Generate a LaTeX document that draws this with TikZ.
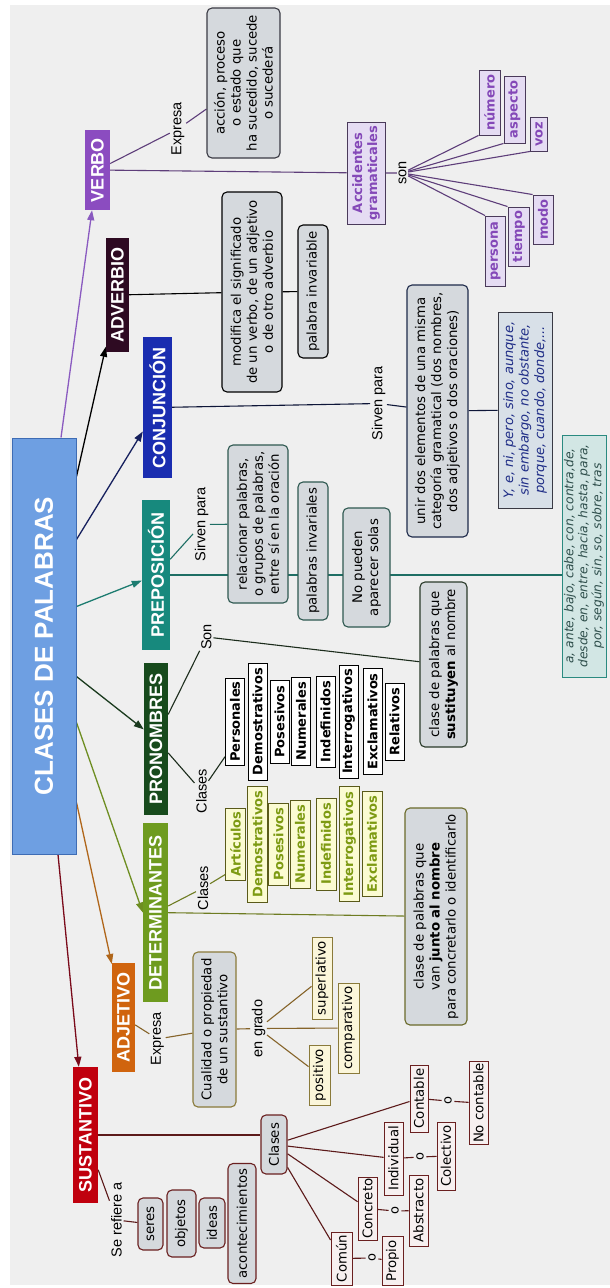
\documentclass[tikz,border=0pt]{standalone}
\usepackage{fontspec}
\setmainfont{DejaVu Sans}
\newfontfamily\arialf{Liberation Sans}
\usetikzlibrary{calc,arrows.meta}
\pgfdeclarelayer{bg}
\pgfdeclarelayer{lines}
\pgfsetlayers{bg,lines,main}
\definecolor{panel}{HTML}{EFEFEF}
\definecolor{cverbo}{HTML}{8B4CC0}
\definecolor{cadv}{HTML}{2E0A22}
\definecolor{cconj}{HTML}{1A2DB0}
\definecolor{cprep}{HTML}{17897D}
\definecolor{cpron}{HTML}{174A1C}
\definecolor{cdet}{HTML}{6E9B1F}
\definecolor{cadj}{HTML}{D0640E}
\definecolor{csust}{HTML}{C0000E}
\definecolor{ctitle}{HTML}{6E9FE2}
\definecolor{ctitleb}{HTML}{3E6CB4}
\definecolor{boxgray}{HTML}{D5D9DD}
\definecolor{lav}{HTML}{E5DCF3}
\definecolor{lavtext}{HTML}{8448B8}
\definecolor{ylw}{HTML}{FBFBD2}
\definecolor{oltext}{HTML}{7D9A12}
\definecolor{conjbox}{HTML}{D8E0E8}
\definecolor{conjtext}{HTML}{1E2C86}
\definecolor{prepbox}{HTML}{D2E6E4}
\definecolor{preptext}{HTML}{2F4F4C}
\definecolor{pinkw}{HTML}{F7F0F0}
\definecolor{ylw2}{HTML}{FBF6DA}
\definecolor{lverbo}{HTML}{5E3E7A}
\definecolor{lconj}{HTML}{0E1638}
\definecolor{lprep}{HTML}{1E6E64}
\definecolor{lpron}{HTML}{1C2C1C}
\definecolor{ldet}{HTML}{6E7C22}
\definecolor{ladj}{HTML}{86642A}
\definecolor{lsust}{HTML}{5C1A1A}
\definecolor{averbo}{HTML}{8A5AC0}
\definecolor{aconj}{HTML}{16205E}
\definecolor{aprep}{HTML}{1D7C70}
\definecolor{apron}{HTML}{1A3A1E}
\definecolor{adet}{HTML}{6E8E22}
\definecolor{aadj}{HTML}{B0661A}
\definecolor{asust}{HTML}{7A0A1A}
\definecolor{bdgray}{HTML}{3A3A44}
\definecolor{bdconj}{HTML}{1E2A4A}
\definecolor{bdprep}{HTML}{2E5850}
\definecolor{bdpron}{HTML}{2A3A2A}
\definecolor{bddet}{HTML}{6A6A2A}
\definecolor{bdadj}{HTML}{8A7A3A}
\definecolor{bdsust}{HTML}{6A2020}
\definecolor{bdlav}{HTML}{4A3A5A}
\definecolor{bdyl}{HTML}{5A5A1A}
\definecolor{bdprepl}{HTML}{2A8A80}
\tikzset{
  every node/.append style={rotate=90},
  sz/.style 2 args={minimum width=#1pt,minimum height=#2pt},
  ttl/.style={fill=ctitle,draw=ctitleb,line width=1pt,text=white,
    font=\arialf\bfseries\fontsize{26}{28}\selectfont,inner sep=1pt},
  cat/.style={fill=#1,text=white,font=\arialf\bfseries\fontsize{18}{20}\selectfont,inner sep=1pt},
  lbl/.style={font=\arialf\fontsize{14.5}{16}\selectfont,inner sep=1.5pt,text=black},
  lblo/.style={font=\fontsize{13}{15}\selectfont,inner sep=2.5pt,text=black},
  rbox/.style={draw=#1,fill=boxgray,rounded corners=5pt,line width=1.1pt,align=center,
    font=\fontsize{13.3}{16}\selectfont,inner sep=1.5pt},
  wbox/.style={draw=#1,fill=white,line width=0.9pt,font=\bfseries\fontsize{13}{15}\selectfont,inner sep=1.5pt},
  ybox/.style={draw=#1,fill=ylw,text=oltext,line width=0.9pt,font=\bfseries\fontsize{13}{15}\selectfont,inner sep=1.5pt},
  lavbox/.style={draw=#1,fill=lav,text=lavtext,line width=0.9pt,align=center,font=\bfseries\fontsize{13}{15}\selectfont,inner sep=1.5pt},
  gbox/.style={draw=#1,fill=ylw2,line width=0.9pt,font=\fontsize{13.3}{15}\selectfont,inner sep=1.5pt},
  sbox/.style={draw=#1,fill=pinkw,line width=0.9pt,font=\fontsize{13.3}{15}\selectfont,inner sep=1.5pt},
  conjbx/.style={draw=#1,fill=conjbox,text=conjtext,line width=1pt,align=center,font=\itshape\fontsize{13}{15.5}\selectfont,inner sep=1.5pt},
  prepbx/.style={draw=#1,fill=prepbox,text=preptext,line width=1pt,align=center,font=\itshape\fontsize{12.3}{14}\selectfont,inner sep=1.5pt},
  ln/.style={draw=#1,line width=1.1pt},
  arr/.style={draw=#1,line width=1.3pt,-{Triangle[length=10pt,width=7pt]}}
}
\begin{document}
\begin{tikzpicture}[x=1pt,y=-1pt]
\useasboundingbox (0,0) rectangle (610,1288);
\begin{pgfonlayer}{bg}
\fill[white] (0,0) rectangle (610,1288);
\fill[panel] (10,5) rectangle (610,1285);
\end{pgfonlayer}

% title and categories
\node[ttl,sz={416}{64}] (title) at (44,646) {CLASES DE PALABRAS};
\node[cat=cverbo,sz={80}{25}] (verbo) at (97.5,170) {VERBO};
\node[cat=cadv,sz={114}{23}] (adv) at (117.5,295) {ADVERBIO};
\node[cat=cconj,sz={141}{29}] (conj) at (157.5,407.5) {CONJUNCIÓN};
\node[cat=cprep,sz={150}{28}] (prep) at (156,575) {PREPOSICIÓN};
\node[cat=cpron,sz={152}{24}] (pron) at (156,739) {PRONOMBRES};
\node[cat=cdet,sz={179}{25}] (det) at (155.5,912.5) {DETERMINANTES};
\node[cat=cadj,sz={109}{23}] (adj) at (123.5,1017.5) {ADJETIVO};
\node[cat=csust,sz={136}{25}] (sust) at (85.5,1135) {SUSTANTIVO};

% verbo
\node[lbl] (vexp) at (178,129) {Expresa};
\node[rbox=bdgray,sz={150}{73}] (vacc) at (243.5,83) {acción, proceso\\o estado que\\ha sucedido, sucede\\o sucederá};
\node[lavbox=bdlav,sz={102}{38}] (vacci) at (366,173) {Accidentes\\gramaticales};
\node[lbl] (vson) at (402.5,173) {son};
\node[lavbox=bdlav,sz={65}{21}] (vnum) at (489.5,102.5) {número};
\node[lavbox=bdlav,sz={67}{21}] (vasp) at (514.5,109.5) {aspecto};
\node[lavbox=bdlav,sz={34}{17}] (vvoz) at (539,134) {voz};
\node[lavbox=bdlav,sz={70}{20}] (vper) at (495.5,251) {persona};
\node[lavbox=bdlav,sz={59}{21}] (vtie) at (518.5,236.5) {tiempo};
\node[lavbox=bdlav,sz={49}{20}] (vmod) at (543,219.5) {modo};

% adverbio
\node[rbox=black,sz={200}{60}] (amod) at (252,292) {modifica el significado\\de un verbo, de un adjetivo\\o de otro adverbio};
\node[rbox=black,sz={133}{30}] (ainv) at (313,291.5) {palabra invariable};

% conjuncion
\node[lbl] (csir) at (378.5,403.5) {Sirven para};
\node[rbox=bdconj,sz={252}{61}] (cuni) at (437.5,411) {unir dos elementos de una misma\\categoría gramatical (dos nombres,\\dos adjetivos o dos oraciones)};
\node[conjbx=bdgray,sz={196}{54}] (cye) at (525,410) {Y, e, ni, pero, sino, aunque,\\sin embargo, no obstante,\\porque, cuando, donde,...};

% preposicion
\node[lbl] (psir) at (201.5,524.5) {Sirven para};
\node[rbox=bdprep,sz={158}{60}] (prel) at (258,524) {relacionar palabras,\\o grupos de palabras,\\entre sí en la oración};
\node[rbox=bdprep,sz={138}{30}] (pinv) at (313,551) {palabras invariales};
\node[rbox=bdprep,sz={119}{47}] (pno) at (366.5,567.5) {No pueden\\aparecer solas};
\node[prepbx=bdprepl,sz={242}{44}] (plist) at (584,556) {a, ante, bajo, cabe, con, contra,de,\\desde, en, entre, hacia, hasta, para,\\por, según, sin, so, sobre, tras};

% pronombres
\node[lbl] (pson) at (206.5,637) {Son};
\node[rbox=bdpron,sz={165}{47}] (psus) at (443.5,664.5) {clase de palabras que\\\textbf{sustituyen} al nombre};
\node[lbl] (pcla) at (201.5,791) {Clases};
\foreach \n/\xx/\L/\t in {ppers/235/87/Personales,pdem/257.5/117/Demostrativos,ppos/279.5/83/Posesivos,pnum/301/88/Numerales,pind/325.5/91/Indefinidos,pint/348.5/113/Interrogativos,pexc/372.5/106/Exclamativos,prel2/394.5/77/Relativos}
  \node[wbox=black,sz={\L}{19}] (\n) at (\xx,721.5) {\t};

% determinantes
\node[lbl] (dcla) at (203,888) {Clases};
\foreach \n/\xx/\L/\t in {darts/235.5/72/Artículos,ddem/257.5/116/Demostrativos,dpos/278.5/82/Posesivos,dnum/300/88/Numerales,dind/326/92/Indefinidos,dint/349.5/115/Interrogativos,dexc/372/105/Exclamativos}
  \node[ybox=bdyl,sz={\L}{20}] (\n) at (\xx,844) {\t};
\node[rbox=bddet,sz={217}{62}] (djun) at (436,916.5) {clase de palabras que\\van \textbf{junto al nombre}\\para concretarlo o identificarlo};

% adjetivo
\node[lbl] (aexp) at (157.5,1039) {Expresa};
\node[rbox=bdadj,sz={155}{43}] (acua) at (214.5,1029.5) {Cualidad o propiedad\\de un sustantivo};
\node[lbl] (agra) at (258.5,1028.5) {en grado};
\node[gbox=bdadj,sz={82}{20}] (asup) at (322,978) {superlativo};
\node[gbox=bdadj,sz={90}{21}] (acom) at (348.5,1028) {comparativo};
\node[gbox=bdadj,sz={60}{21}] (apos) at (319.5,1075) {positivo};

% sustantivo
\node[lbl] (sref) at (116.5,1220) {Se refiere a};
\node[rbox=bdsust,sz={52}{25}] (sser) at (150.5,1224) {seres};
\node[rbox=bdsust,sz={67}{29}] (sobj) at (181.5,1223.5) {objetos};
\node[rbox=bdsust,sz={50}{26}] (side) at (212,1223) {ideas};
\node[rbox=bdsust,sz={120}{28}] (saco) at (242,1223.5) {acontecimientos};
\node[rbox=bdsust,sz={59}{26}] (scla) at (274,1144.5) {Clases};
\node[sbox=bdsust,sz={67}{18}] (scon) at (419,1098.5) {Contable};
\node[lblo] (so1) at (448,1101) {o};
\node[sbox=bdsust,sz={80}{19}] (snoc) at (478.5,1103) {No contable};
\node[sbox=bdsust,sz={73}{19}] (sind) at (393.5,1158.5) {Individual};
\node[lblo] (so2) at (420,1157) {o};
\node[sbox=bdsust,sz={68}{18}] (scol) at (446,1156) {Colectivo};
\node[sbox=bdsust,sz={63}{19}] (scnc) at (367.5,1208.5) {Concreto};
\node[lblo] (so3) at (395,1211) {o};
\node[sbox=bdsust,sz={71}{19}] (sabs) at (418.5,1210.5) {Abstracto};
\node[sbox=bdsust,sz={53}{21}] (scom) at (341.5,1258.5) {Común};
\node[lblo] (so4) at (372,1258) {o};
\node[sbox=bdsust,sz={49}{21}] (spro) at (392.5,1261) {Propio};

\begin{pgfonlayer}{lines}
% arrows from title
\draw[arr=averbo] ($(title.east)+(17,0)$) -- (verbo);
\draw[arr=black] ($(title.south east)+(0,39)$) -- (adv);
\draw[arr=aconj] ($(title.south east)+(0,102)$) -- (conj);
\draw[arr=aprep] ($(title.south east)+(0,169)$) -- (prep);
\draw[arr=apron] ($(title.south east)+(0,239)$) -- (pron);
\draw[arr=adet] ($(title.south east)+(0,285)$) -- (det.north);
\draw[arr=aadj] ($(title.south east)+(0,365)$) -- (adj);
\draw[arr=asust] ($(title.west)+(14,0)$) -- (sust);
% verbo
\draw[ln=lverbo] (verbo) -- (vexp) -- (vacc);
\draw[ln=lverbo] (verbo) -- (vacci) -- (vson);
\foreach \t/\a in {vnum/north west,vasp/north west,vvoz/north west,vper/north east,vtie/north east,vmod/north east}
  \draw[ln=lverbo] (vson) -- (\t.\a);
% adverbio
\draw[ln=black] (adv) -- (amod) -- (ainv);
% conjuncion
\draw[ln=lconj] (conj) -- (csir) -- (cuni) -- (cye);
% preposicion
\draw[ln=lprep] (prep) -- (psir) -- (prel);
\draw[ln=lprep] (prep.south) -- (prep.south -| plist.north);
% pronombres
\draw[ln=lpron] (pron) -- (pson) -- (psus);
\draw[ln=lpron] (pron) -- (pcla) -- ($(ppers.north west)!0.1!(ppers.north east)$);
% determinantes
\draw[ln=ldet] (det) -- (dcla) -- ($(darts.north west)!0.08!(darts.north east)$);
\draw[ln=ldet] (det) -- (djun);
% adjetivo
\draw[ln=ladj] (adj) -- (aexp) -- (acua) -- (agra);
\draw[ln=ladj] (agra) -- (asup);
\draw[ln=ladj] (agra) -- (acom);
\draw[ln=ladj] (agra) -- (apos);
% sustantivo
\draw[ln=lsust] (sust) -- (sref) -- (sser);
\draw[ln=lsust] (sust.south) -- (sust.south -| scla.north);
\draw[ln=lsust] (scla) -- (scon);
\draw[ln=lsust] (scla) -- (sind);
\draw[ln=lsust] (scla) -- (scnc);
\draw[ln=lsust] (scla) -- (scom);
\draw[ln=lsust] (scon) -- (so1) -- (snoc);
\draw[ln=lsust] (sind) -- (so2) -- (scol);
\draw[ln=lsust] (scnc) -- (so3) -- (sabs);
\draw[ln=lsust] (scom) -- (so4) -- (spro);
\end{pgfonlayer}
\end{tikzpicture}
\end{document}
